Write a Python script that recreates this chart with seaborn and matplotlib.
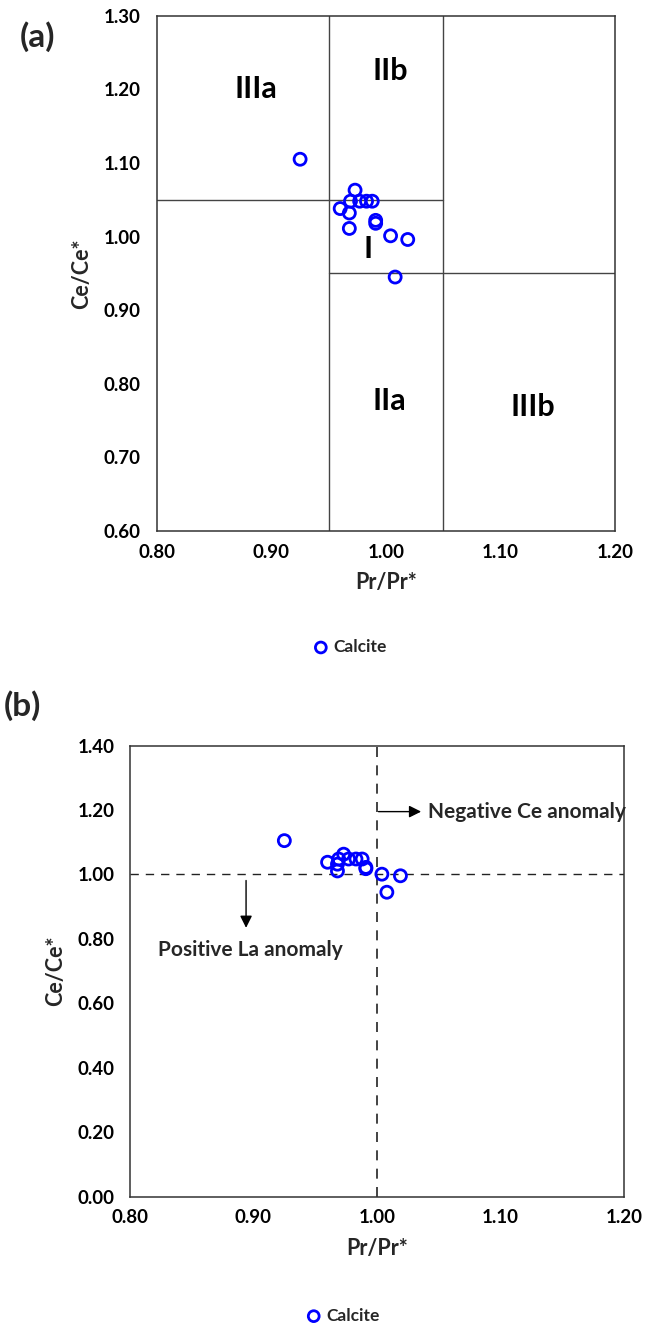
import matplotlib
matplotlib.use("Agg")
import matplotlib.pyplot as plt
from matplotlib.ticker import MultipleLocator, FormatStrFormatter
import seaborn as sns
import pandas as pd

# ---- data ----
pr_values = [0.925, 0.973, 0.969, 0.977, 0.983, 0.988, 0.960, 0.968, 0.991, 0.991, 0.968, 1.004, 1.019, 1.008]
ce_values = [1.105, 1.063, 1.048, 1.048, 1.048, 1.048, 1.038, 1.032, 1.022, 1.018, 1.011, 1.001, 0.996, 0.945]
series_name = "Calcite"
x_label = "Pr/Pr*"
y_label = "Ce/Ce*"
field_labels = ["IIIa", "IIb", "I", "IIa", "IIIb"]
field_x = [0.886, 1.004, 0.984, 1.003, 1.128]
field_y = [1.200, 1.225, 0.983, 0.777, 0.768]

df = pd.DataFrame({"Pr": pr_values, "Ce": ce_values, "Mineral": series_name})

sns.set_theme(style="white")
plt.rcParams["font.family"] = ["Lato", "DejaVu Sans"]
plt.rcParams["font.weight"] = "bold"
plt.rcParams["axes.labelweight"] = "bold"

fig = plt.figure(figsize=(6.46, 13.27), dpi=100)
axa = fig.add_axes([0.243, 0.5998, 0.709, 0.3884])
axb = fig.add_axes([0.2012, 0.0980, 0.7647, 0.3402])

blue = "#0000FF"
edge = "#333333"
tick_fs = 13.5


def style_axes(ax):
    for s in ax.spines.values():
        s.set_color(edge)
        s.set_linewidth(1.1)
        s.set_visible(True)
    ax.tick_params(which="both", colors=edge, labelcolor="black", labelsize=tick_fs)
    for lab in ax.get_xticklabels() + ax.get_yticklabels():
        lab.set_fontweight("bold")


def add_legend(ax, cx, cy):
    h, l = ax.get_legend_handles_labels()
    if ax.legend_:
        ax.legend_.remove()
    fig.legend(h, l, loc="center", bbox_to_anchor=(cx, cy), frameon=False,
               handletextpad=0.3, handlelength=0.8, markerscale=0.9, borderaxespad=0,
               prop={"weight": "bold", "size": 12.5})


# ---------------- panel (a) ----------------
sns.scatterplot(data=df, x="Pr", y="Ce", ax=axa, marker="o", s=75,
                facecolors="none", edgecolor=blue, linewidth=2.0,
                label=series_name, zorder=5)
axa.set_xlim(0.80, 1.20)
axa.set_ylim(0.60, 1.30)
axa.xaxis.set_major_locator(MultipleLocator(0.10))
axa.xaxis.set_minor_locator(MultipleLocator(0.05))
axa.yaxis.set_major_locator(MultipleLocator(0.10))
axa.yaxis.set_minor_locator(MultipleLocator(0.05))
axa.xaxis.set_major_formatter(FormatStrFormatter("%.2f"))
axa.yaxis.set_major_formatter(FormatStrFormatter("%.2f"))
axa.tick_params(axis="x", which="major", direction="inout", length=8, width=1.1, pad=5)
axa.tick_params(axis="x", which="minor", direction="in", length=4, width=1.1)
axa.tick_params(axis="y", which="major", direction="out", length=6, width=1.1, pad=6)
axa.tick_params(axis="y", which="minor", direction="in", length=4, width=1.1)
line_c = "#444444"
axa.axvline(0.95, color=line_c, lw=1.0, zorder=1)
axa.axvline(1.05, color=line_c, lw=1.0, zorder=1)
axa.plot([0.80, 1.05], [1.05, 1.05], color=line_c, lw=1.0, zorder=1)
axa.plot([0.95, 1.20], [0.95, 0.95], color=line_c, lw=1.0, zorder=1)
for t, x, y in zip(field_labels, field_x, field_y):
    axa.text(x, y, t, ha="center", va="center", fontsize=22, fontweight="bold", color="black")
axa.set_xlabel(x_label, fontsize=15.5, fontweight="bold", labelpad=8)
axa.set_ylabel(y_label, fontsize=15.5, fontweight="bold", labelpad=8)
style_axes(axa)
add_legend(axa, 0.542, 0.5124)
fig.text(0.058, 0.9725, "(a)", fontsize=24, fontweight="bold", ha="center", va="center")

# ---------------- panel (b) ----------------
sns.scatterplot(data=df, x="Pr", y="Ce", ax=axb, marker="o", s=75,
                facecolors="none", edgecolor=blue, linewidth=2.0,
                label=series_name, zorder=5)
axb.set_xlim(0.80, 1.20)
axb.set_ylim(0.00, 1.40)
axb.xaxis.set_major_locator(MultipleLocator(0.10))
axb.xaxis.set_minor_locator(MultipleLocator(0.05))
axb.yaxis.set_major_locator(MultipleLocator(0.20))
axb.yaxis.set_minor_locator(MultipleLocator(0.10))
axb.xaxis.set_major_formatter(FormatStrFormatter("%.2f"))
axb.yaxis.set_major_formatter(FormatStrFormatter("%.2f"))
axb.tick_params(axis="x", which="major", direction="inout", length=8, width=1.1, pad=5)
axb.tick_params(axis="x", which="minor", direction="in", length=4, width=1.1)
axb.tick_params(axis="y", which="major", direction="inout", length=10, width=1.1, pad=6)
axb.tick_params(axis="y", which="minor", direction="in", length=4, width=1.1)
axb.axhline(1.00, color="#222222", lw=1.0, ls=(0, (6, 5)), zorder=1)
axb.plot([1.00, 1.00], [0.0, 1.41], color="#222222", lw=1.2, ls=(0, (6, 5)),
         zorder=1, clip_on=False)
axb.annotate("", xy=(1.038, 1.195), xytext=(0.999, 1.195),
             arrowprops=dict(arrowstyle="-|>", color="black", lw=1.0, mutation_scale=18))
axb.text(1.041, 1.195, "Negative Ce anomaly", ha="left", va="center",
         fontsize=15, fontweight="bold")
axb.annotate("", xy=(0.894, 0.826), xytext=(0.894, 0.990),
             arrowprops=dict(arrowstyle="-|>", color="black", lw=1.0, mutation_scale=18))
axb.text(0.823, 0.766, "Positive La anomaly", ha="left", va="center",
         fontsize=15, fontweight="bold")
axb.set_xlabel(x_label, fontsize=15.5, fontweight="bold", labelpad=8)
axb.set_ylabel(y_label, fontsize=15.5, fontweight="bold", labelpad=8)
style_axes(axb)
add_legend(axb, 0.531, 0.0085)
fig.text(0.034, 0.468, "(b)", fontsize=24, fontweight="bold", ha="center", va="center")

fig.savefig("out.png", dpi=100)
